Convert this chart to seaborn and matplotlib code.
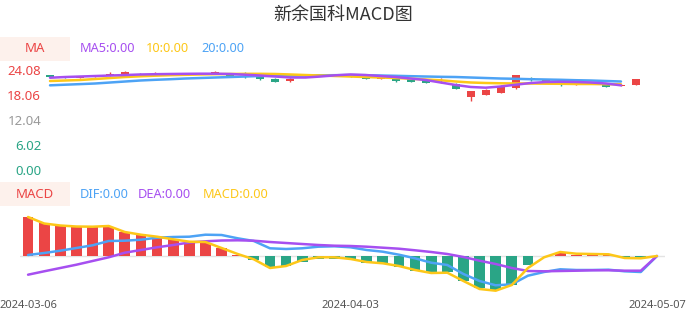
import matplotlib
matplotlib.use("Agg")
import matplotlib.pyplot as plt
import seaborn as sns
import numpy as np
from matplotlib.patches import Rectangle

sns.set_theme(style="white")
plt.rcParams['font.family'] = ['Noto Sans', 'Noto Sans CJK SC', 'DejaVu Sans']

# ---------------- data ----------------
dates = ["2024-03-06", "2024-03-07", "2024-03-08", "2024-03-11", "2024-03-12", "2024-03-13",
         "2024-03-14", "2024-03-15", "2024-03-18", "2024-03-19", "2024-03-20", "2024-03-21",
         "2024-03-22", "2024-03-25", "2024-03-26", "2024-03-27", "2024-03-28", "2024-03-29",
         "2024-04-01", "2024-04-02", "2024-04-03", "2024-04-08", "2024-04-09", "2024-04-10",
         "2024-04-11", "2024-04-12", "2024-04-15", "2024-04-16", "2024-04-17", "2024-04-18",
         "2024-04-19", "2024-04-22", "2024-04-23", "2024-04-24", "2024-04-25", "2024-04-26",
         "2024-04-29", "2024-04-30", "2024-05-06", "2024-05-07"]

opens = [22.80, 22.60, 22.25, 22.40, 22.60, 22.80, 23.15, 23.10, 23.15, 23.15, 23.10, 23.36, 23.00,
         22.70, 22.40, 21.98, 21.35, 22.80, 22.85, 23.10, 22.60, 22.40, 21.85, 22.15, 21.85, 21.60,
         21.50, 20.80, 17.50, 18.15, 18.60, 19.75, 22.15, 21.55, 21.40, 20.40, 20.70, 20.55, 20.30, 20.40]
closes = [22.35, 22.20, 22.40, 22.75, 23.15, 23.50, 23.05, 23.20, 23.10, 23.20, 23.15, 23.70, 22.75,
          22.30, 22.00, 21.20, 21.95, 23.10, 23.10, 22.75, 22.50, 22.00, 22.30, 21.50, 21.20, 21.00,
          21.70, 19.60, 19.00, 19.20, 20.20, 22.80, 21.60, 21.75, 20.90, 21.00, 20.95, 20.00, 20.55, 21.85]
highs = [22.95, 22.70, 22.70, 22.85, 23.60, 23.80, 23.30, 23.60, 23.25, 23.30, 23.25, 23.80, 23.10,
         23.60, 22.50, 22.10, 22.05, 23.15, 23.15, 23.15, 22.80, 22.45, 22.35, 22.20, 21.90, 21.65,
         22.10, 20.85, 19.10, 19.60, 20.50, 22.90, 22.35, 21.95, 21.45, 21.05, 21.00, 20.60, 20.60, 22.00]
lows = [22.30, 22.10, 22.20, 22.30, 22.55, 22.70, 22.95, 23.00, 23.05, 23.05, 23.05, 23.30, 22.70,
        22.10, 21.75, 21.10, 21.30, 22.75, 22.80, 22.70, 22.40, 21.95, 21.80, 21.20, 21.15, 20.95,
        21.00, 19.50, 16.60, 18.10, 18.55, 19.40, 21.55, 21.35, 20.20, 20.35, 20.65, 19.95, 20.25, 20.35]

ma5 = [22.22, 22.39, 22.51, 22.63, 22.75, 22.87, 23.00, 23.07, 23.12, 23.16, 23.19, 23.19, 23.12,
       22.95, 22.75, 22.51, 22.27, 22.27, 22.51, 22.80, 23.00, 22.87, 22.63, 22.39, 22.03, 21.67,
       21.07, 20.47, 19.99, 19.82, 20.11, 20.54, 20.95, 21.19, 21.24, 21.19, 21.07, 20.83, 20.39]
ma10 = [21.43, 21.55, 21.67, 21.91, 22.15, 22.39, 22.56, 22.71, 22.83, 22.92, 23.00, 23.07, 23.12,
        23.16, 23.16, 23.12, 23.00, 22.87, 22.75, 22.63, 22.51, 22.39, 22.27, 22.15, 21.98, 21.79,
        21.60, 21.31, 21.07, 20.95, 20.88, 20.83, 20.83, 20.78, 20.76, 20.71, 20.71, 20.66, 20.64]
ma20 = [20.39, 20.54, 20.68, 20.83, 21.07, 21.31, 21.55, 21.72, 21.86, 22.03, 22.15, 22.27, 22.39,
        22.51, 22.63, 22.68, 22.71, 22.75, 22.80, 22.83, 22.87, 22.83, 22.75, 22.68, 22.59, 22.51,
        22.44, 22.39, 22.27, 22.15, 22.03, 21.96, 21.86, 21.79, 21.72, 21.62, 21.55, 21.43, 21.31]

hist = [0.39, 0.33, 0.30, 0.29, 0.29, 0.29, 0.24, 0.22, 0.19, 0.17, 0.14, 0.13, 0.08, 0.01,
        -0.04, -0.11, -0.10, -0.06, -0.03, -0.03, -0.03, -0.07, -0.07, -0.11, -0.15, -0.17, -0.16,
        -0.25, -0.32, -0.34, -0.29, -0.09, 0.0, 0.03, 0.01, 0.01, 0.01, -0.02, -0.02, 0.0]
macd_line = [0.39, 0.325, 0.305, 0.295, 0.293, 0.30, 0.24, 0.213, 0.193, 0.167, 0.143, 0.14, 0.08,
             0.02, -0.033, -0.12, -0.10, -0.04, -0.013, -0.013, -0.03, -0.06, -0.073, -0.10, -0.14,
             -0.17, -0.167, -0.25, -0.33, -0.347, -0.29, -0.12, -0.013, 0.04, 0.023, 0.02, 0.017,
             -0.02, -0.023, 0.0]
dif = [0.01, 0.03, 0.053, 0.08, 0.107, 0.15, 0.153, 0.163, 0.183, 0.19, 0.193, 0.213, 0.21, 0.177,
       0.15, 0.077, 0.07, 0.077, 0.093, 0.097, 0.087, 0.06, 0.043, 0.013, -0.023, -0.067, -0.09,
       -0.18, -0.25, -0.293, -0.283, -0.197, -0.16, -0.133, -0.14, -0.14, -0.137, -0.153, -0.16, 0.0]
dea = [-0.187, -0.153, -0.12, -0.087, -0.05, -0.013, 0.033, 0.06, 0.087, 0.11, 0.135, 0.147, 0.155,
       0.157, 0.153, 0.14, 0.13, 0.12, 0.11, 0.103, 0.10, 0.093, 0.083, 0.073, 0.057, 0.04, 0.02,
       -0.01, -0.047, -0.08, -0.12, -0.15, -0.153, -0.15, -0.147, -0.143, -0.143, -0.147, -0.147, 0.0]

yticks = [0.00, 6.02, 12.04, 18.06, 24.08]
date_ticks = [0, 20, 39]

# ---------------- style ----------------
RED = '#eb4545'
GREEN = '#2aa586'
PURPLE = '#a64ff0'
YELLOW = '#fdc718'
BLUE = '#4da3f5'
GRAY = '#999999'
BOX = '#fdf1ec'

W, H = 686, 320
fig = plt.figure(figsize=(W / 100, H / 100), dpi=100)


def fx(px):
    return px / W


def fy(py):
    return 1 - py / H


# title
fig.text(0.5, fy(15), "新余国科MACD图", ha='center', va='center', fontsize=13,
         color='#333333', family=['Noto Sans CJK SC', 'DejaVu Sans'])

# ---------- top panel: candles + MA ----------
ax1 = fig.add_axes([fx(42.5), fy(170), fx(601), 100 / H])
n = len(dates)
idx = np.arange(n)
o = np.array(opens); c = np.array(closes)
hi = np.array(highs); lo = np.array(lows)
up = c >= o
cols = np.where(up, RED, GREEN)
ax1.vlines(idx, lo, hi, colors=cols, linewidth=1.0, zorder=2)
body_bottom = np.minimum(o, c)
body_h = np.maximum(np.abs(c - o), 0.06)
ax1.bar(idx, body_h, bottom=body_bottom, width=0.53, color=cols, zorder=3, linewidth=0)

mx = np.arange(len(ma5))
sns.lineplot(x=mx, y=ma20, ax=ax1, color=BLUE, linewidth=1.8, legend=False, zorder=4)
sns.lineplot(x=mx, y=ma10, ax=ax1, color=YELLOW, linewidth=1.8, legend=False, zorder=5)
sns.lineplot(x=mx, y=ma5, ax=ax1, color=PURPLE, linewidth=1.8, legend=False, zorder=6)

ax1.set_xlim(-0.5, n - 0.5)
ax1.set_ylim(0, 24.08)
ax1.set_yticks(yticks)
ax1.set_yticklabels([f"{v:.2f}" for v in yticks], fontsize=9.5)
tick_cols = [GREEN, GREEN, GRAY, RED, RED]
for lab, col in zip(ax1.get_yticklabels(), tick_cols):
    lab.set_color(col)
ax1.tick_params(axis='y', length=0, pad=1)
ax1.set_xticks([])
ax1.set_xlabel(''); ax1.set_ylabel('')
for s in ax1.spines.values():
    s.set_visible(False)
ax1.patch.set_alpha(0)

# MA legend row
fig.patches.append(Rectangle((0, fy(61)), fx(70), 24 / H, transform=fig.transFigure,
                             facecolor=BOX, edgecolor='none', zorder=0))
fig.text(fx(35), fy(49), "MA", ha='center', va='center', fontsize=9.5, color=RED)
fig.text(fx(80), fy(49), "MA5:0.00", ha='left', va='center', fontsize=9.2, color=PURPLE)
fig.text(fx(146), fy(49), "10:0.00", ha='left', va='center', fontsize=9.2, color=YELLOW)
fig.text(fx(201), fy(49), "20:0.00", ha='left', va='center', fontsize=9.2, color=BLUE)

# ---------- bottom panel: MACD ----------
ax2 = fig.add_axes([fx(20), fy(296), fx(645), 86 / H])
h = np.array(hist)
ax2.axhline(0, color='#e3e3e3', linewidth=1, zorder=1)
ax2.bar(idx, h, width=0.66, color=np.where(h >= 0, RED, GREEN), linewidth=0, zorder=2)
sns.lineplot(x=idx, y=dif, ax=ax2, color=BLUE, linewidth=1.8, legend=False, zorder=3)
sns.lineplot(x=idx, y=dea, ax=ax2, color=PURPLE, linewidth=1.8, legend=False, zorder=4)
sns.lineplot(x=idx, y=macd_line, ax=ax2, color=YELLOW, linewidth=1.8, legend=False, zorder=5)
ax2.set_xlim(-0.5, n - 0.5)
ax2.set_ylim(-0.40, 0.46)
ax2.set_yticks([])
ax2.set_xticks(date_ticks)
ax2.set_xticklabels([dates[i] for i in date_ticks], fontsize=8, color='#555555')
ax2.tick_params(axis='x', length=0, pad=3)
ax2.set_xlabel(''); ax2.set_ylabel('')
for s in ax2.spines.values():
    s.set_visible(False)
ax2.patch.set_alpha(0)

fig.patches.append(Rectangle((0, fy(206)), fx(70), 24 / H, transform=fig.transFigure,
                             facecolor=BOX, edgecolor='none', zorder=0))
fig.text(fx(35), fy(194), "MACD", ha='center', va='center', fontsize=9.5, color=RED)
fig.text(fx(80), fy(194), "DIF:0.00", ha='left', va='center', fontsize=9.2, color=BLUE)
fig.text(fx(138), fy(194), "DEA:0.00", ha='left', va='center', fontsize=9.2, color=PURPLE)
fig.text(fx(203), fy(194), "MACD:0.00", ha='left', va='center', fontsize=9.2, color=YELLOW)

fig.savefig("out.png", dpi=100)
